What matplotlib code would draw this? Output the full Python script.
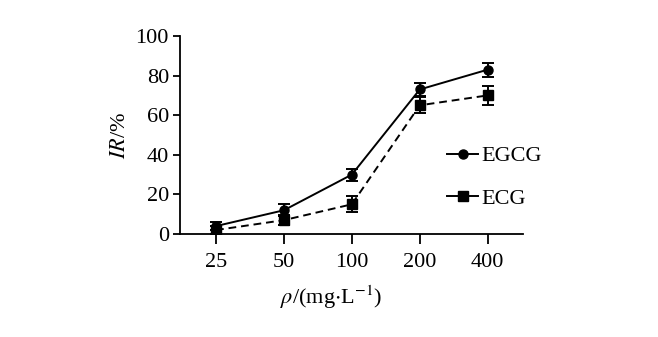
import matplotlib
matplotlib.use("Agg")
import matplotlib.pyplot as plt
from matplotlib.lines import Line2D

categories = ["25", "50", "100", "200", "400"]
egcg = [4, 12, 30, 73, 83]
egcg_err = [2, 3, 3, 3.5, 3.5]
ecg = [2, 7, 15, 65, 70]
ecg_err = [2, 2.5, 4, 4, 5]

plt.rcParams['font.family'] = ['Liberation Serif', 'DejaVu Serif']
plt.rcParams['mathtext.fontset'] = 'stix'

fig = plt.figure(figsize=(6.58, 3.37), dpi=100)
ax = fig.add_axes([180/658, 1-234/337, (523-180)/658, (234-36)/337])

x = list(range(len(categories)))
ax.errorbar(x, egcg, yerr=egcg_err, color='black', lw=1.4, marker='o', ms=6.5,
            capsize=4, elinewidth=1.4, capthick=1.4, ls='-', label='EGCG')
ax.errorbar(x, ecg, yerr=ecg_err, color='black', lw=1.4, marker='s', ms=6.5,
            capsize=4, elinewidth=1.4, capthick=1.4, ls='--', dashes=(4, 2.5), label='ECG')

ax.set_xlim(-0.53, 4.52)
ax.set_ylim(0, 100)
ax.set_yticks([0, 20, 40, 60, 80, 100])
ax.set_xticks(x)
ax.set_xticklabels(categories)
for s in ['top', 'right']:
    ax.spines[s].set_visible(False)
for s in ['left', 'bottom']:
    ax.spines[s].set_linewidth(1.3)
ax.tick_params(axis='y', direction='out', length=5, width=1.3, labelsize=16, pad=3)
ax.tick_params(axis='x', direction='out', length=7, width=1.3, labelsize=16, pad=7)

ax.set_ylabel(r'$IR$/%', fontsize=16, labelpad=4)
fig.text(331/658, 1-297/337, r'$\rho$/(mg$\cdot$L$^{-1}$)', ha='center', va='center', fontsize=16)

h1 = Line2D([], [], color='black', lw=1.4, marker='o', ms=6.5)
h2 = Line2D([], [], color='black', lw=1.4, marker='s', ms=6.5)
leg = ax.legend([h1, h2], ['EGCG', 'ECG'], loc='center left', bbox_to_anchor=(0.72, 0.285),
                frameon=False, fontsize=16, handlelength=1.4, handletextpad=0.15, labelspacing=1.0)

fig.savefig('out.png', dpi=100)
